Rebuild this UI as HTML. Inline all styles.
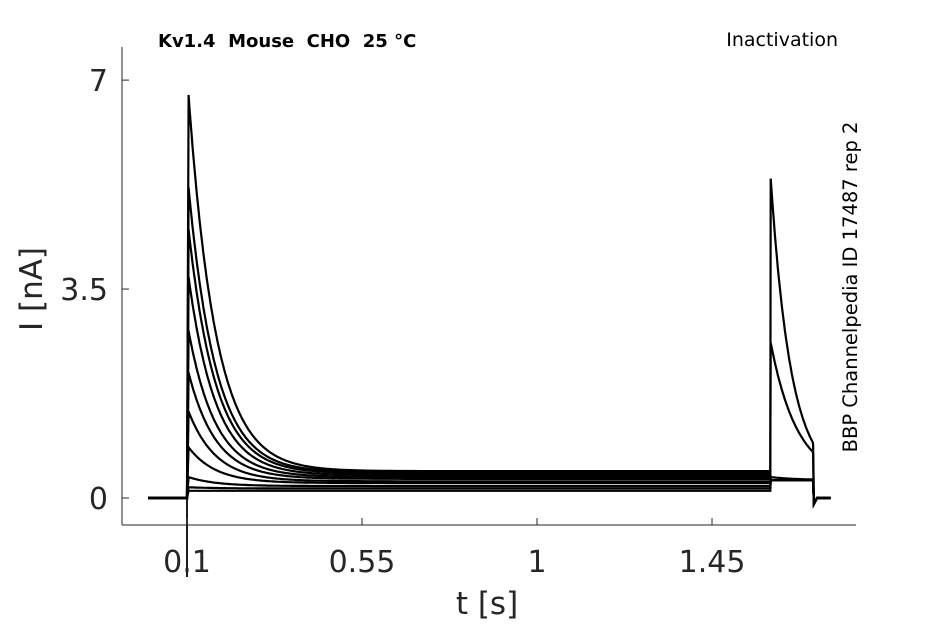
<!DOCTYPE html>
<html><head><meta charset="utf-8"><style>
body{margin:0;background:#fff}
svg text{font-family:"DejaVu Sans","Liberation Sans",sans-serif;fill:#262626}
</style></head><body>
<svg width="945" height="624">
<g id="traces"></g>
<line x1="122" y1="47" x2="122" y2="525" stroke="#262626"/>
<line x1="122" y1="525" x2="856" y2="525" stroke="#262626"/>
<g id="ticks"></g>
<text x="158" y="47" font-size="18" font-weight="bold" style="fill:#000;white-space:pre">Kv1.4  Mouse  CHO  25 °C</text>
<text x="838" y="46" font-size="19" text-anchor="end" style="fill:#000">Inactivation</text>
<text transform="translate(857,287) rotate(-90)" font-size="19.5" text-anchor="middle" style="fill:#000">BBP Channelpedia ID 17487 rep 2</text>
<text transform="translate(42,289) rotate(-90)" font-size="31" text-anchor="middle">I [nA]</text>
<text x="487" y="614" font-size="31" text-anchor="middle">t [s]</text>
</svg>
<script>
const xTicks=[0.1,0.55,1,1.45];
const xTickLabels=["0.1","0.55","1","1.45"];
const yTicks=[0,3.5,7];
const yTickLabels=["0","3.5","7"];
const peaks1=[6.75,5.2,4.5,3.7,2.8,2.1,1.45,0.85,0.35,0.18,0.12];
const steady1=[0.45,0.43,0.41,0.38,0.35,0.32,0.28,0.25,0.2,0.16,0.12];
const peaks2=[5.35,2.6,0.35,0.3,0.3,0.3,0.3,0.3,0.3,0.3,0.3];
const end2=[0.9,0.75,0.3,0.3,0.3,0.3,0.3,0.3,0.3,0.3,0.3];
const sx=t=>187+(t-0.1)*388.9, sy=v=>498-v*59.7;
const NS="http://www.w3.org/2000/svg";
const tk=document.getElementById('ticks');
xTicks.forEach((t,i)=>{
 const l=document.createElementNS(NS,'line');
 
 
 l.setAttribute('x1',sx(t));l.setAttribute('x2',sx(t));l.setAttribute('y1',525);l.setAttribute('y2',518);l.setAttribute('stroke','#262626');tk.appendChild(l);
 const tx=document.createElementNS(NS,'text');
 
 
 tx.setAttribute('x',sx(t));tx.setAttribute('y',572);tx.setAttribute('font-size','30');tx.setAttribute('text-anchor','middle');tx.textContent=xTickLabels[i];tk.appendChild(tx);
});
yTicks.forEach((v,i)=>{
 const l=document.createElementNS(NS,'line');
 
 
 l.setAttribute('x1',122);l.setAttribute('x2',129);l.setAttribute('y1',sy(v));l.setAttribute('y2',sy(v));l.setAttribute('stroke','#262626');tk.appendChild(l);
 const tx=document.createElementNS(NS,'text');
 
 
 tx.setAttribute('x',108);tx.setAttribute('y',sy(v)+11);tx.setAttribute('font-size','30');tx.setAttribute('text-anchor','end');tx.textContent=yTickLabels[i];tk.appendChild(tx);
});
const g=document.getElementById('traces');
peaks1.forEach((p,i)=>{
 const s=steady1[i],p2=peaks2[i],e2=end2[i];
 let pts=[];
 for(let t=0;t<0.1;t+=0.005)pts.push([t,0]);
 pts.push([0.1,0]);
 const rise=0.004;
 for(let t=0.1;t<=1.6;t+=(t<0.5?0.002:0.02)){
  const d=t-0.1;
  const v=d<rise?p*d/rise:s+(p-s)*Math.exp(-(d-rise)/0.07);
  pts.push([t,v]);
 }
 const tau2=p2>e2+0.01?0.11/Math.log((p2-0.3)/(e2-0.3+0.01)):1;
 pts.push([1.6,s]);
 for(let t=1.601;t<=1.71;t+=0.002){
  const d=t-1.601;
  pts.push([t,p2>0.31?0.3+(p2-0.3)*Math.exp(-d/tau2):0.3]);
 }
 pts.push([1.71,e2]);pts.push([1.712,-0.1]);pts.push([1.72,0]);pts.push([1.755,0]);
 const pl=document.createElementNS(NS,'polyline');
 
 
 pl.setAttribute('points',pts.map(q=>sx(q[0]).toFixed(1)+','+sy(q[1]).toFixed(1)).join(' '));
 pl.setAttribute('fill','none');pl.setAttribute('stroke','#000');pl.setAttribute('stroke-width','2.2');
 g.appendChild(pl);
});
const art=document.createElementNS(NS,'line');


art.setAttribute('x1',187);art.setAttribute('x2',187);art.setAttribute('y1',498);art.setAttribute('y2',577);art.setAttribute('stroke','#000');art.setAttribute('stroke-width','1.8');
g.appendChild(art);
</script>
</body></html>
